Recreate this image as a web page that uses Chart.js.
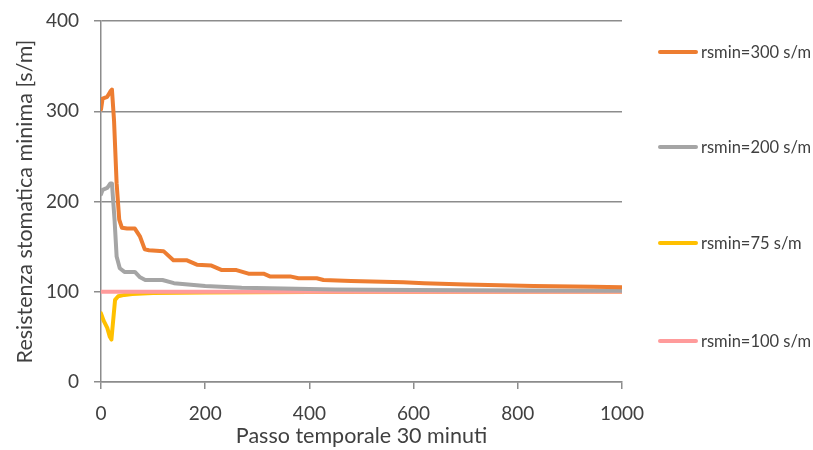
<!DOCTYPE html>
<html>
<head>
<meta charset="utf-8">
<script src="https://cdn.jsdelivr.net/npm/chart.js@4"></script>
<style>
    body { margin: 0; background: #fff; }
    #wrap { position: relative; width: 813px; height: 450px; }
    .leg { position: absolute; left: 658px; display: flex; align-items: center; font: 16.5px Lato, sans-serif; color: #404040; white-space: nowrap; }
    .leg span.ln { display: inline-block; width: 40px; height: 4px; border-radius: 2px; margin-right: 3px; }
</style>
</head>
<body>
<div id="wrap">
    <canvas id="chart" width="813" height="450"></canvas>
</div>
<script>
// serie (passo temporale, resistenza s/m)
const x300 = [0, 3, 12, 18, 21, 25, 30, 35, 40, 50, 65, 75, 84, 92, 120, 139, 164, 184, 212, 232, 260, 283, 312, 324, 363, 379, 414, 427, 480, 580, 620, 700, 830, 945, 1000];
const y300 = [302, 314, 316, 322, 324, 290, 220, 180, 171, 170, 170, 161, 147, 146, 145, 135, 135, 130, 129, 124, 124, 120, 120, 117, 117, 115, 115, 113, 112, 110.5, 109.5, 108, 106.5, 105.5, 105];

const x200 = [0, 3, 12, 18, 21, 26, 30, 36, 45, 65, 75, 85, 118, 140, 200, 270, 350, 450, 600, 800, 1000];
const y200 = [208, 213, 215, 220, 220, 180, 139, 126, 122, 122, 116, 113, 113, 109.5, 106.5, 104.5, 103.5, 102.5, 102, 101.5, 101];

const x75 = [0, 5, 12, 17, 20, 27, 33, 45, 60, 100, 200, 400, 1000];
const y75 = [76, 68, 60, 50, 47, 91, 95, 96.5, 97.5, 98.5, 99.2, 99.7, 100];

const x100 = [0, 1000];
const y100 = [100, 100];

const labels = ['rsmin=300 s/m', 'rsmin=200 s/m', 'rsmin=75 s/m', 'rsmin=100 s/m'];
const colors = ['#ED7D31', '#A5A5A5', '#FFC000', '#FF9B9B'];
const legendY = [52, 147, 243, 341];

const toPoints = (xs, ys) => xs.map((x, i) => ({ x: x, y: ys[i] }));
const series = [toPoints(x300, y300), toPoints(x200, y200), toPoints(x75, y75), toPoints(x100, y100)];
const drawOrder = [1, 2, 4, 3];

const textColor = '#404040';
const gridColor = '#8C8C8C';

const ctx = document.getElementById('chart').getContext('2d');
const chart = new Chart(ctx, {
    type: 'line',
    data: {
        datasets: series.map((pts, i) => ({
            label: labels[i],
            data: pts,
            borderColor: colors[i],
            backgroundColor: colors[i],
            borderWidth: 4,
            pointRadius: 0,
            tension: 0,
            fill: false,
            order: drawOrder[i],
            borderJoinStyle: 'round',
            borderCapStyle: 'round'
        }))
    },
    options: {
        responsive: false,
        animation: false,
        events: [],
        layout: { padding: { top: 21, right: 191, left: 0, bottom: 0 } },
        plugins: {
            legend: { display: false },
            tooltip: { enabled: false }
        },
        scales: {
            x: {
                type: 'linear',
                min: 0,
                max: 1000,
                ticks: { stepSize: 200, color: textColor, font: { family: 'Lato', size: 19 }, padding: 13, maxRotation: 0, callback: (v) => String(v) },
                grid: { drawOnChartArea: false, drawTicks: true, tickLength: 7, color: gridColor, lineWidth: 1.5 },
                border: { color: gridColor, width: 1.5 },
                title: { display: true, text: 'Passo temporale 30 minuti', color: textColor, font: { family: 'Lato', size: 21.5 }, padding: { top: 0, bottom: 1 } },
                afterFit: (scale) => { scale.height = 68; }
            },
            y: {
                min: 0,
                max: 400,
                ticks: { stepSize: 100, color: textColor, font: { family: 'Lato', size: 19 }, padding: 15 },
                grid: { color: gridColor, lineWidth: 1.5, tickLength: 7 },
                border: { color: gridColor, width: 1.5 },
                title: { display: true, text: 'Resistenza stomatica minima [s/m]', color: textColor, font: { family: 'Lato', size: 21.5 }, padding: { top: 12, bottom: 0 } },
                afterFit: (scale) => {
                    scale.width = 101;
                    // niente spazio extra sopra: l'area del grafico parte dal padding del layout
                    scale.paddingTop = 0;
                }
            }
        }
    }
});

// legenda HTML disposta a destra
const wrap = document.getElementById('wrap');
labels.forEach((lab, i) => {
    const d = document.createElement('div');
    d.className = 'leg';
    d.style.top = (legendY[i] - 10) + 'px';
    d.style.height = '20px';
    d.innerHTML = `<span class="ln" style="background:${colors[i]}"></span><span>${lab}</span>`;
    wrap.appendChild(d);
});
</script>
</body>
</html>
